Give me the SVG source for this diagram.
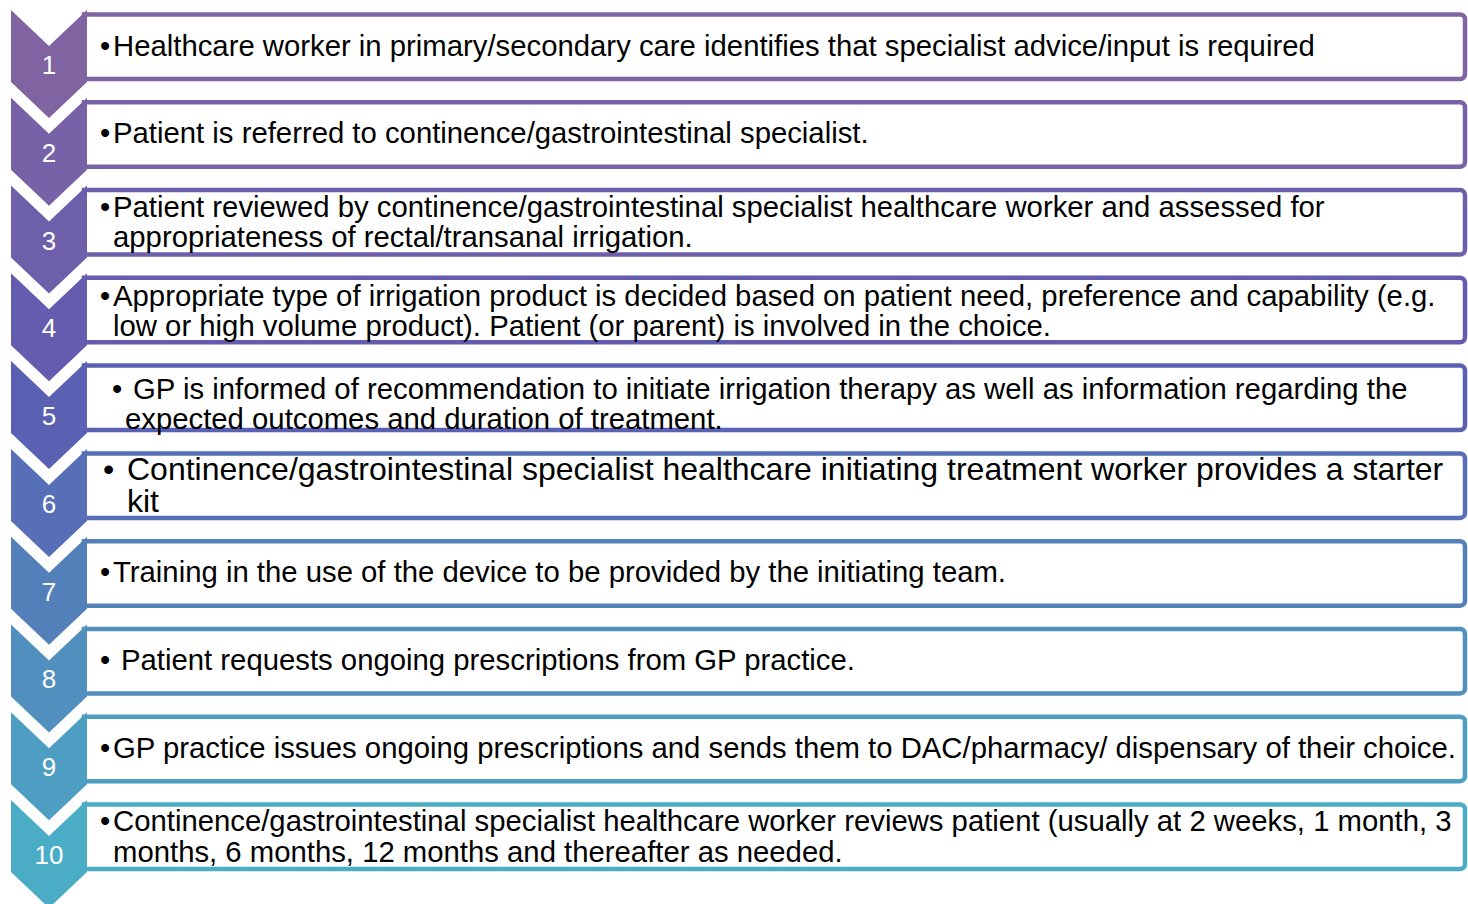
<svg xmlns="http://www.w3.org/2000/svg" width="1468" height="904" viewBox="0 0 1468 904">
<style>
.box{fill:#ffffff;stroke-width:4.5}
.num{font-family:"Liberation Sans",Arial,sans-serif;font-size:26px;fill:#ffffff;text-anchor:middle}
.t{font-family:"Liberation Sans",Arial,sans-serif;font-size:29.3px;fill:#000000}
.t6{font-family:"Liberation Sans",Arial,sans-serif;font-size:32px;fill:#000000}
</style>
<rect width="1468" height="904" fill="#ffffff"/>
<g id="step1">
<path class="box" stroke="#8064A2" d="M84,14.5H1460A5,5 0 0 1 1465,19.5V74A5,5 0 0 1 1460,79H84Z"/>
<path fill="#8064A2" d="M11,10L49,46L87,10V82L49,118L11,82Z"/>
<text class="num" x="49" y="74">1</text>
<text class="t" x="100" y="55.5">•</text>
<text class="t" x="113" y="55.5">Healthcare worker in primary/secondary care identifies that specialist advice/input is required</text>
</g>
<g id="step2">
<path class="box" stroke="#7862A7" d="M84,102.28H1460A5,5 0 0 1 1465,107.28V161.78A5,5 0 0 1 1460,166.78H84Z"/>
<path fill="#7862A7" d="M11,97.78L49,133.78L87,97.78V169.78L49,205.78L11,169.78Z"/>
<text class="num" x="49" y="161.78">2</text>
<text class="t" x="100" y="143.3">•</text>
<text class="t" x="113" y="143.3">Patient is referred to continence/gastrointestinal specialist.</text>
</g>
<g id="step3">
<path class="box" stroke="#6E5FAB" d="M84,190.06H1460A5,5 0 0 1 1465,195.06V249.56A5,5 0 0 1 1460,254.56H84Z"/>
<path fill="#6E5FAB" d="M11,185.56L49,221.56L87,185.56V257.56L49,293.56L11,257.56Z"/>
<text class="num" x="49" y="249.56">3</text>
<text class="t" x="100" y="217">•</text>
<text class="t" x="113" y="217">Patient reviewed by continence/gastrointestinal specialist healthcare worker and assessed for</text>
<text class="t" x="113" y="247">appropriateness of rectal/transanal irrigation.</text>
</g>
<g id="step4">
<path class="box" stroke="#645DAF" d="M84,277.83H1460A5,5 0 0 1 1465,282.83V337.33A5,5 0 0 1 1460,342.33H84Z"/>
<path fill="#645DAF" d="M11,273.33L49,309.33L87,273.33V345.33L49,381.33L11,345.33Z"/>
<text class="num" x="49" y="337.33">4</text>
<text class="t" x="100" y="306">•</text>
<text class="t" x="113" y="306">Appropriate type of irrigation product is decided based on patient need, preference and capability (e.g.</text>
<text class="t" x="113" y="336">low or high volume product). Patient (or parent) is involved in the choice.</text>
</g>
<g id="step5">
<path class="box" stroke="#5B61B2" d="M84,365.61H1460A5,5 0 0 1 1465,370.61V425.11A5,5 0 0 1 1460,430.11H84Z"/>
<path fill="#5B61B2" d="M11,361.11L49,397.11L87,361.11V433.11L49,469.11L11,433.11Z"/>
<text class="num" x="49" y="425.11">5</text>
<text class="t" x="112" y="399">•</text>
<text class="t" x="133" y="399">GP is informed of recommendation to initiate irrigation therapy as well as information regarding the</text>
<text class="t" x="125" y="429">expected outcomes and duration of treatment.</text>
</g>
<g id="step6">
<path class="box" stroke="#566FB6" d="M84,453.39H1460A5,5 0 0 1 1465,458.39V512.89A5,5 0 0 1 1460,517.89H84Z"/>
<path fill="#566FB6" d="M11,448.89L49,484.89L87,448.89V520.89L49,556.89L11,520.89Z"/>
<text class="num" x="49" y="512.89">6</text>
<text class="t6" x="103" y="480">•</text>
<text class="t6" x="127" y="480">Continence/gastrointestinal specialist healthcare initiating treatment worker provides a starter</text>
<text class="t6" x="127" y="512">kit</text>
</g>
<g id="step7">
<path class="box" stroke="#5480BA" d="M84,541.17H1460A5,5 0 0 1 1465,546.17V600.67A5,5 0 0 1 1460,605.67H84Z"/>
<path fill="#5480BA" d="M11,536.67L49,572.67L87,536.67V608.67L49,644.67L11,608.67Z"/>
<text class="num" x="49" y="600.67">7</text>
<text class="t" x="100" y="582.2">•</text>
<text class="t" x="113" y="582.2">Training in the use of the device to be provided by the initiating team.</text>
</g>
<g id="step8">
<path class="box" stroke="#518FBE" d="M84,628.94H1460A5,5 0 0 1 1465,633.94V688.44A5,5 0 0 1 1460,693.44H84Z"/>
<path fill="#518FBE" d="M11,624.44L49,660.44L87,624.44V696.44L49,732.44L11,696.44Z"/>
<text class="num" x="49" y="688.44">8</text>
<text class="t" x="100" y="670">•</text>
<text class="t" x="121" y="670">Patient requests ongoing prescriptions from GP practice.</text>
</g>
<g id="step9">
<path class="box" stroke="#4E9DC2" d="M84,716.72H1460A5,5 0 0 1 1465,721.72V776.22A5,5 0 0 1 1460,781.22H84Z"/>
<path fill="#4E9DC2" d="M11,712.22L49,748.22L87,712.22V784.22L49,820.22L11,784.22Z"/>
<text class="num" x="49" y="776.22">9</text>
<text class="t" x="100" y="757.8">•</text>
<text class="t" x="113" y="757.8">GP practice issues ongoing prescriptions and sends them to DAC/pharmacy/ dispensary of their choice.</text>
</g>
<g id="step10">
<path class="box" stroke="#4BACC6" d="M84,804.5H1460A5,5 0 0 1 1465,809.5V864A5,5 0 0 1 1460,869H84Z"/>
<path fill="#4BACC6" d="M11,800L49,836L87,800V872L49,908L11,872Z"/>
<text class="num" x="49" y="864">10</text>
<text class="t" x="100" y="831">•</text>
<text class="t" x="113" y="831">Continence/gastrointestinal specialist healthcare worker reviews patient (usually at 2 weeks, 1 month, 3</text>
<text class="t" x="113" y="862">months, 6 months, 12 months and thereafter as needed.</text>
</g>
</svg>
